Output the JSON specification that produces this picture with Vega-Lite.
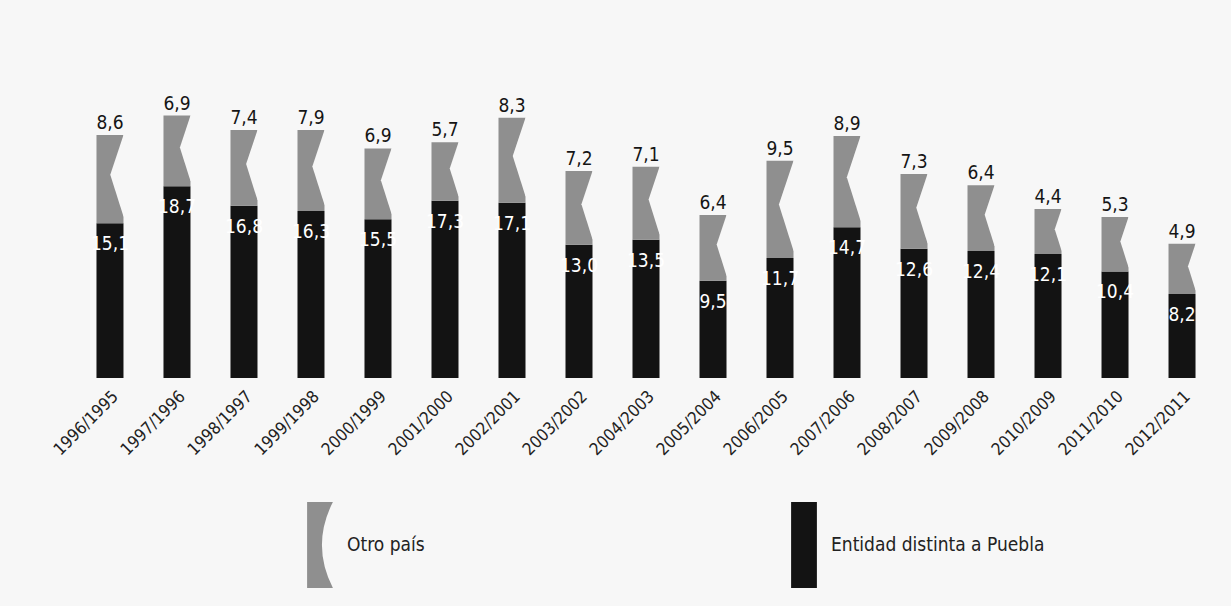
{
  "$schema": "https://vega.github.io/schema/vega-lite/v6.json",
  "width": 1132,
  "height": 287,
  "autosize": {"type": "none"},
  "padding": {"left": 80, "top": 91, "right": 19, "bottom": 228},
  "background": "#f7f7f7",
  "config": {
    "view": {"stroke": null},
    "locale": {"number": {"decimal": ",", "thousands": ".", "grouping": [3], "currency": ["", " €"]}}
  },
  "data": {
    "values": [
      {"year": "1996/1995", "cat": "Entidad distinta a Puebla", "value": 15.1},
      {"year": "1996/1995", "cat": "Otro país", "value": 8.6},
      {"year": "1997/1996", "cat": "Entidad distinta a Puebla", "value": 18.7},
      {"year": "1997/1996", "cat": "Otro país", "value": 6.9},
      {"year": "1998/1997", "cat": "Entidad distinta a Puebla", "value": 16.8},
      {"year": "1998/1997", "cat": "Otro país", "value": 7.4},
      {"year": "1999/1998", "cat": "Entidad distinta a Puebla", "value": 16.3},
      {"year": "1999/1998", "cat": "Otro país", "value": 7.9},
      {"year": "2000/1999", "cat": "Entidad distinta a Puebla", "value": 15.5},
      {"year": "2000/1999", "cat": "Otro país", "value": 6.9},
      {"year": "2001/2000", "cat": "Entidad distinta a Puebla", "value": 17.3},
      {"year": "2001/2000", "cat": "Otro país", "value": 5.7},
      {"year": "2002/2001", "cat": "Entidad distinta a Puebla", "value": 17.1},
      {"year": "2002/2001", "cat": "Otro país", "value": 8.3},
      {"year": "2003/2002", "cat": "Entidad distinta a Puebla", "value": 13.0},
      {"year": "2003/2002", "cat": "Otro país", "value": 7.2},
      {"year": "2004/2003", "cat": "Entidad distinta a Puebla", "value": 13.5},
      {"year": "2004/2003", "cat": "Otro país", "value": 7.1},
      {"year": "2005/2004", "cat": "Entidad distinta a Puebla", "value": 9.5},
      {"year": "2005/2004", "cat": "Otro país", "value": 6.4},
      {"year": "2006/2005", "cat": "Entidad distinta a Puebla", "value": 11.7},
      {"year": "2006/2005", "cat": "Otro país", "value": 9.5},
      {"year": "2007/2006", "cat": "Entidad distinta a Puebla", "value": 14.7},
      {"year": "2007/2006", "cat": "Otro país", "value": 8.9},
      {"year": "2008/2007", "cat": "Entidad distinta a Puebla", "value": 12.6},
      {"year": "2008/2007", "cat": "Otro país", "value": 7.3},
      {"year": "2009/2008", "cat": "Entidad distinta a Puebla", "value": 12.4},
      {"year": "2009/2008", "cat": "Otro país", "value": 6.4},
      {"year": "2010/2009", "cat": "Entidad distinta a Puebla", "value": 12.1},
      {"year": "2010/2009", "cat": "Otro país", "value": 4.4},
      {"year": "2011/2010", "cat": "Entidad distinta a Puebla", "value": 10.4},
      {"year": "2011/2010", "cat": "Otro país", "value": 5.3},
      {"year": "2012/2011", "cat": "Entidad distinta a Puebla", "value": 8.2},
      {"year": "2012/2011", "cat": "Otro país", "value": 4.9}
    ]
  },
  "encoding": {
    "x": {
      "field": "year",
      "type": "nominal",
      "sort": null,
      "scale": {"paddingInner": 0.597, "paddingOuter": 0.246},
      "axis": {
        "title": null,
        "domain": false,
        "ticks": false,
        "labelAngle": -45,
        "labelFontSize": 17,
        "labelFont": "Liberation Sans Narrow, DejaVu Sans Condensed, sans-serif",
        "labelColor": "#222222",
        "labelPadding": 10
      }
    }
  },
  "layer": [
    {
      "mark": {"type": "bar"},
      "encoding": {
        "y": {"field": "value", "type": "quantitative", "stack": "zero", "scale": {"domain": [0, 28], "nice": false}, "axis": null},
        "order": {"field": "cat", "sort": "ascending"},
        "color": {
          "field": "cat",
          "type": "nominal",
          "scale": {"domain": ["Otro país", "Entidad distinta a Puebla"], "range": ["#8f8f8f", "#131313"]},
          "legend": {
            "orient": "none",
            "legendX": 197,
            "legendY": 411,
            "direction": "horizontal",
            "columns": 2,
            "title": null,
            "padding": 0,
            "symbolSize": 7396,
            "symbolStrokeWidth": 0,
            "symbolOpacity": 1,
            "labelFontSize": 19,
            "labelFont": "Liberation Sans Narrow, DejaVu Sans Condensed, sans-serif",
            "labelColor": "#222222",
            "labelLimit": 0,
            "labelOffset": -16,
            "columnPadding": 336,
            "encode": {
              "symbols": {
                "update": {
                  "shape": {"signal": "datum.value === 'Otro país' ? 'M-0.3,-1L0.3,-1Q-0.21,0,0.3,1L-0.3,1Z' : 'M-0.3,-1L0.3,-1L0.3,1L-0.3,1Z'"}
                }
              }
            }
          }
        }
      }
    },
    {
      "mark": {"type": "point", "filled": true, "fill": "#f7f7f7", "strokeWidth": 0, "shape": "M0.3,0L0,0L-0.3,0.9L0,1.85L0.3,1.85Z"},
      "encoding": {
        "x": {"field": "year", "type": "nominal", "sort": null, "bandPosition": 1},
        "y": {"field": "value", "type": "quantitative", "stack": "zero"},
        "detail": {"field": "cat"},
        "order": {"field": "cat", "sort": "ascending"},
        "size": {"field": "value", "type": "quantitative", "scale": {"type": "pow", "exponent": 2, "domain": [0, 10], "range": [0, 10506.25]}, "legend": null},
        "opacity": {"condition": {"test": "datum.cat === 'Otro país'", "value": 1}, "value": 0}
      }
    },
    {
      "mark": {"type": "text", "baseline": "alphabetic", "dy": -6, "fontSize": 19, "font": "Liberation Sans Narrow, DejaVu Sans Condensed, sans-serif", "fill": "#151515"},
      "encoding": {
        "y": {"field": "value", "type": "quantitative", "stack": "zero"},
        "detail": {"field": "cat"},
        "order": {"field": "cat", "sort": "ascending"},
        "text": {"field": "value", "type": "quantitative", "format": ".1f"},
        "opacity": {"condition": {"test": "datum.cat === 'Otro país'", "value": 1}, "value": 0}
      }
    },
    {
      "mark": {"type": "text", "baseline": "alphabetic", "dy": 27, "fontSize": 19, "font": "Liberation Sans Narrow, DejaVu Sans Condensed, sans-serif", "fill": "#ffffff"},
      "encoding": {
        "y": {"field": "value", "type": "quantitative", "stack": "zero"},
        "detail": {"field": "cat"},
        "order": {"field": "cat", "sort": "ascending"},
        "text": {"field": "value", "type": "quantitative", "format": ".1f"},
        "opacity": {"condition": {"test": "datum.cat === 'Entidad distinta a Puebla'", "value": 1}, "value": 0}
      }
    }
  ]
}
